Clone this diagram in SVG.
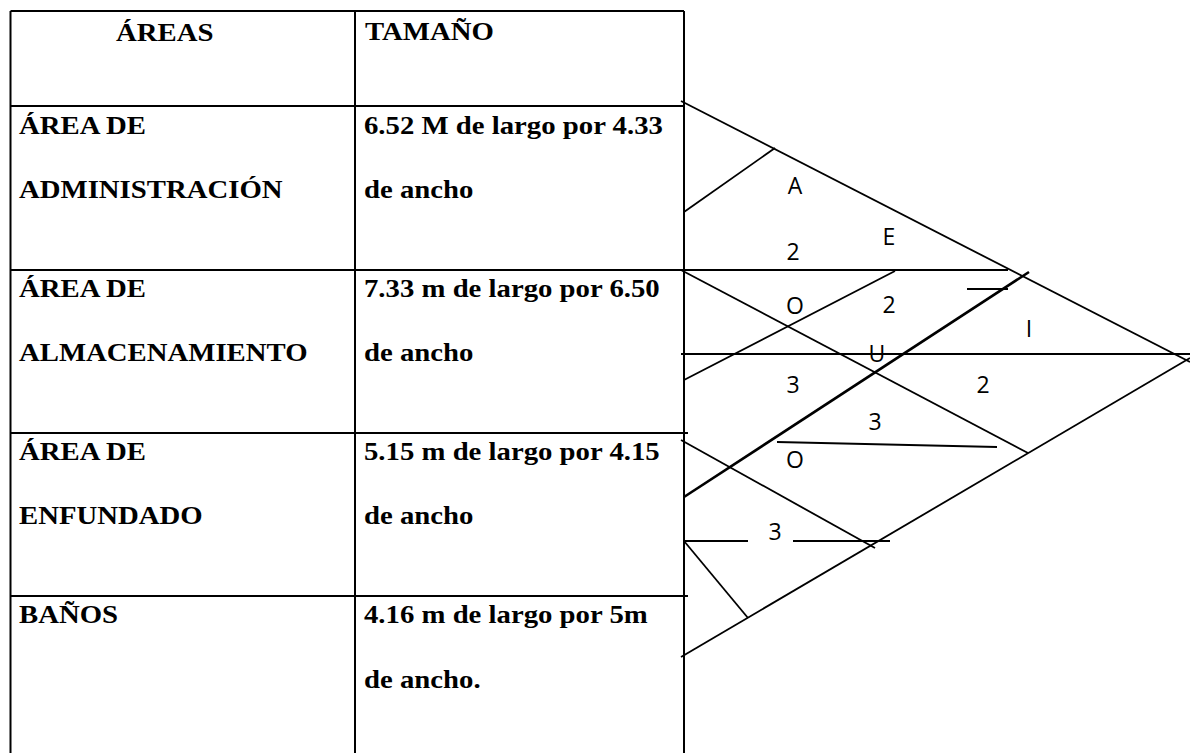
<svg xmlns="http://www.w3.org/2000/svg" width="1190" height="753" viewBox="0 0 1190 753">
<style>
.tl{stroke:#000;stroke-width:2;fill:none}
.ln{stroke:#000;stroke-width:1.8;fill:none;stroke-linecap:butt}
.thick{stroke:#000;stroke-width:2.6;fill:none}
.tt{font-family:"Liberation Serif","Times New Roman",serif;font-weight:bold;font-size:25px;fill:#000}
.lb{font-family:"Open Sans","Noto Sans",sans-serif;font-size:23px;fill:#000;text-anchor:middle}
</style>
<rect width="1190" height="753" fill="#fff"/>
<g id="table">
<path class="tl" d="M10.5,11 H684 M10.5,106 H684 M10.5,270 H688 M10.5,433 H688 M10.5,596 H688 M10.5,11 V753 M355,11 V753 M684,11 V753"/>
</g>
<g id="header">
<text class="tt" transform="translate(116,40.5) scale(1.15 1)">ÁREAS</text>
<text class="tt" transform="translate(365,40) scale(1.15 1)">TAMAÑO</text>
</g>
<g id="row-admin">
<text class="tt" transform="translate(19,134) scale(1.15 1)">ÁREA DE</text>
<text class="tt" transform="translate(19,198) scale(1.15 1)">ADMINISTRACIÓN</text>
<text class="tt" transform="translate(364,134) scale(1.15 1)">6.52 M de largo por 4.33</text>
<text class="tt" transform="translate(364,198) scale(1.15 1)">de ancho</text>
</g>
<g id="row-almacen">
<text class="tt" transform="translate(19,297) scale(1.15 1)">ÁREA DE</text>
<text class="tt" transform="translate(19,361) scale(1.15 1)">ALMACENAMIENTO</text>
<text class="tt" transform="translate(364,297) scale(1.15 1)">7.33 m de largo por 6.50</text>
<text class="tt" transform="translate(364,361) scale(1.15 1)">de ancho</text>
</g>
<g id="row-enfundado">
<text class="tt" transform="translate(19,460) scale(1.15 1)">ÁREA DE</text>
<text class="tt" transform="translate(19,524) scale(1.15 1)">ENFUNDADO</text>
<text class="tt" transform="translate(364,460) scale(1.15 1)">5.15 m de largo por 4.15</text>
<text class="tt" transform="translate(364,524) scale(1.15 1)">de ancho</text>
</g>
<g id="row-banos">
<text class="tt" transform="translate(19,623) scale(1.15 1)">BAÑOS</text>
<text class="tt" transform="translate(364,623) scale(1.15 1)">4.16 m de largo por 5m</text>
<text class="tt" transform="translate(364,688) scale(1.15 1)">de ancho.</text>
</g>
<g id="connectors">
<path class="ln" d="M681,101 L1190,362"/>
<path class="ln" d="M681,657 L1190,358"/>
<path class="ln" d="M681,354 H1190"/>
<path class="ln" d="M775,148 L684,212"/>
<path class="ln" d="M684,270 H1008"/>
<path class="ln" d="M967,289 H1008"/>
<path class="thick" d="M1029,272 L684,497"/>
<path class="ln" d="M681,270 L1028,453"/>
<path class="ln" d="M684,380 L895,271"/>
<path class="ln" d="M777,442 L997,447"/>
<path class="ln" d="M681,440 L875,548"/>
<path class="ln" d="M684,541 H748 M793,541 H890"/>
<path class="ln" d="M684,541 L748,618"/>
</g>
<g id="labels">
<text class="lb" x="795" y="194">A</text>
<text class="lb" x="889" y="245">E</text>
<text class="lb" x="793" y="260">2</text>
<text class="lb" x="795" y="314">O</text>
<text class="lb" x="889" y="313">2</text>
<text class="lb" x="1029" y="337">I</text>
<text class="lb" x="877" y="362">U</text>
<text class="lb" x="793" y="393">3</text>
<text class="lb" x="983" y="393">2</text>
<text class="lb" x="875" y="430">3</text>
<text class="lb" x="795" y="468">O</text>
<text class="lb" x="775" y="540">3</text>
</g>
</svg>
